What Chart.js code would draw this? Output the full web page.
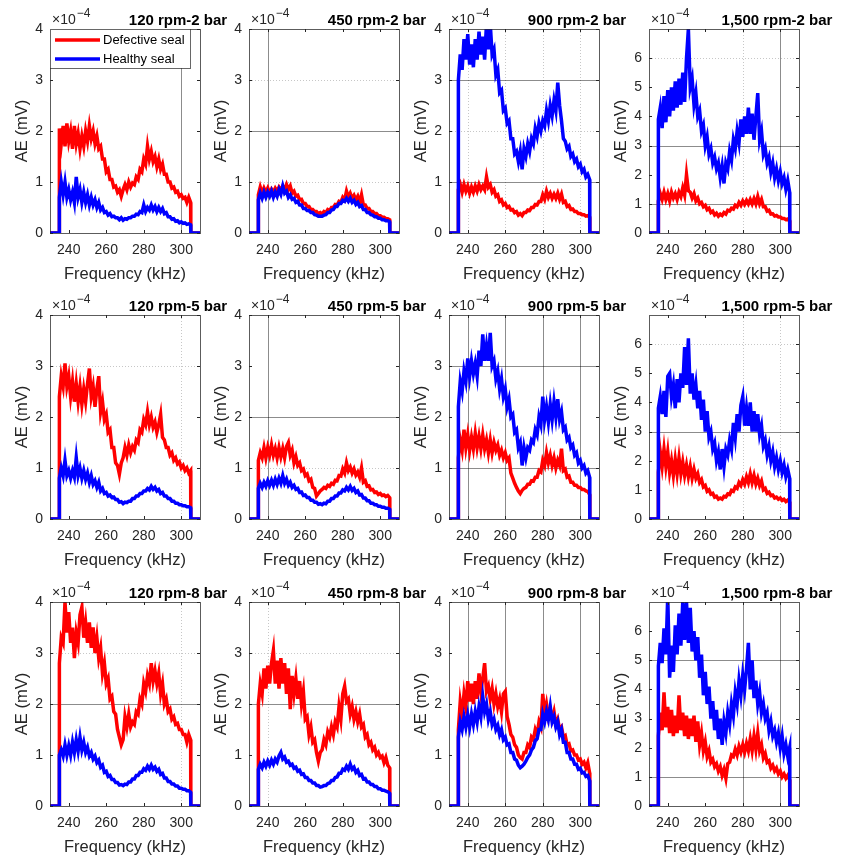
<!DOCTYPE html>
<html>
<head>
<meta charset="utf-8">
<script src="https://cdn.jsdelivr.net/npm/chart.js@4.4.1/dist/chart.umd.min.js"></script>
<style>
  html, body { margin: 0; padding: 0; background: #fff; }
  body { position: relative; width: 843px; height: 856px; overflow: hidden; }
  canvas { position: absolute; }
</style>
</head>
<body>
<script>
/* AE spectra, values in units of 1e-4 mV. Signal is zero outside the 235-305 kHz band. */
const freqKHz = [230, 234.9,
  235,236,237,238,239,240,241,242,243,244,
  245,246,247,248,249,250,251,252,253,254,
  255,256,257,258,259,260,261,262,263,264,
  265,266,267,268,269,270,271,272,273,274,
  275,276,277,278,279,280,281,282,283,284,
  285,286,287,288,289,290,291,292,293,294,
  295,296,297,298,299,300,301,302,303,304,
  305, 305.1, 310];

// 2 bar
const def120_2 = [0, 0,
  2.05,1.75,2.10,1.70,2.15,1.80,2.00,1.65,2.10,1.75,
  1.95,1.65,1.90,1.70,2.00,1.80,2.10,1.85,2.00,1.75,
  1.90,1.65,1.70,1.45,1.45,1.20,1.25,1.05,1.05,0.90,
  0.92,0.80,0.85,0.72,0.85,0.95,0.85,1.00,0.90,0.98,
  0.95,1.10,1.05,1.25,1.20,1.45,1.35,1.70,1.45,1.60,
  1.40,1.50,1.30,1.45,1.25,1.35,1.15,1.15,1.00,1.00,
  0.88,0.90,0.80,0.82,0.72,0.75,0.68,0.70,0.60,0.70,
  0.60, 0, 0];
const hea120_2 = [0, 0,
  0.70,1.00,0.75,1.00,0.70,0.85,0.65,0.80,0.60,1.10,
  0.70,0.85,0.60,0.80,0.60,0.75,0.55,0.70,0.55,0.65,
  0.50,0.60,0.45,0.50,0.40,0.42,0.35,0.38,0.32,0.33,
  0.30,0.30,0.26,0.30,0.25,0.28,0.27,0.30,0.30,0.33,
  0.33,0.37,0.36,0.42,0.40,0.55,0.42,0.50,0.45,0.55,
  0.45,0.52,0.42,0.50,0.42,0.48,0.38,0.40,0.32,0.32,
  0.27,0.28,0.23,0.24,0.20,0.22,0.19,0.20,0.17,0.18,
  0.16, 0, 0];
const def450_2 = [0, 0,
  0.75,0.90,0.78,0.88,0.80,0.88,0.78,0.86,0.80,0.88,
  0.82,0.90,0.84,0.92,0.85,0.95,0.85,0.92,0.78,0.82,
  0.72,0.74,0.65,0.66,0.58,0.58,0.52,0.52,0.46,0.46,
  0.42,0.42,0.38,0.40,0.37,0.42,0.40,0.46,0.44,0.50,
  0.50,0.56,0.55,0.62,0.60,0.70,0.65,0.82,0.70,0.78,
  0.68,0.74,0.65,0.72,0.60,0.75,0.55,0.55,0.48,0.48,
  0.42,0.42,0.38,0.38,0.34,0.34,0.31,0.31,0.28,0.28,
  0.26, 0, 0];
const hea450_2 = [0, 0,
  0.65,0.78,0.68,0.80,0.70,0.80,0.72,0.82,0.70,0.80,
  0.72,0.85,0.76,0.92,0.78,0.82,0.70,0.75,0.66,0.68,
  0.60,0.62,0.55,0.55,0.48,0.48,0.44,0.44,0.40,0.40,
  0.36,0.35,0.33,0.33,0.33,0.35,0.36,0.40,0.40,0.45,
  0.46,0.52,0.52,0.58,0.58,0.64,0.62,0.68,0.62,0.68,
  0.60,0.64,0.56,0.60,0.52,0.54,0.46,0.46,0.40,0.40,
  0.36,0.35,0.32,0.32,0.29,0.29,0.26,0.26,0.24,0.24,
  0.22, 0, 0];
const def900_2 = [0, 0,
  0.85,0.95,0.80,0.95,0.82,0.92,0.78,0.90,0.80,0.92,
  0.82,0.95,0.85,0.92,0.85,1.10,0.90,0.95,0.80,0.85,
  0.72,0.75,0.62,0.65,0.55,0.58,0.50,0.52,0.45,0.46,
  0.40,0.42,0.35,0.38,0.34,0.40,0.40,0.45,0.44,0.50,
  0.50,0.56,0.55,0.62,0.62,0.75,0.66,0.82,0.70,0.78,
  0.68,0.76,0.68,0.78,0.66,0.76,0.60,0.62,0.52,0.54,
  0.46,0.47,0.42,0.42,0.38,0.38,0.36,0.36,0.33,0.34,
  0.31, 0, 0];
const hea900_2 = [0, 0,
  3.00,3.50,3.20,3.80,3.40,3.90,3.30,3.70,3.25,3.80,
  3.40,3.95,3.50,3.85,3.40,4.10,3.60,4.10,3.50,3.60,
  3.10,3.20,2.75,2.80,2.40,2.45,2.15,2.20,1.85,1.85,
  1.55,1.60,1.40,1.60,1.25,1.65,1.50,1.75,1.60,1.85,
  1.75,2.05,1.90,2.15,2.00,2.20,2.10,2.40,2.20,2.50,
  2.30,2.60,2.40,2.95,2.50,2.20,1.85,1.80,1.65,1.70,
  1.50,1.55,1.40,1.45,1.30,1.35,1.20,1.25,1.10,1.15,
  1.05, 0, 0];
const def1500_2 = [0, 0,
  1.10,1.35,1.15,1.40,1.15,1.35,1.10,1.40,1.20,1.35,
  1.15,1.40,1.25,1.55,1.30,2.00,1.45,1.40,1.20,1.35,
  1.10,1.20,1.00,1.05,0.90,0.95,0.80,0.85,0.70,0.75,
  0.62,0.68,0.58,0.65,0.60,0.70,0.65,0.78,0.75,0.85,
  0.82,0.95,0.90,1.05,0.95,1.10,0.98,1.12,1.00,1.15,
  1.00,1.18,1.00,1.25,1.00,1.15,0.90,0.90,0.75,0.78,
  0.65,0.66,0.58,0.60,0.55,0.55,0.50,0.50,0.46,0.48,
  0.42, 0, 0];
const hea1500_2 = [0, 0,
  3.90,4.30,3.60,4.70,3.80,4.90,4.00,5.00,4.20,5.20,
  4.30,5.30,4.40,5.50,4.50,6.00,7.00,5.00,5.30,4.40,
  4.80,4.00,4.20,3.50,3.70,3.00,3.30,2.70,2.90,2.40,
  2.60,2.20,2.40,1.90,2.30,1.70,2.40,2.20,2.80,2.50,
  3.20,2.90,3.50,3.10,3.90,3.30,4.00,3.40,4.30,3.40,
  4.10,3.20,4.00,4.80,3.20,3.50,2.70,2.90,2.40,2.60,
  2.10,2.40,1.90,2.20,1.80,2.10,1.70,1.90,1.50,1.80,
  1.40, 0, 0];

// 5 bar
const def120_5 = [0, 0,
  2.40,2.80,2.60,3.05,2.60,2.80,2.40,2.70,2.30,2.65,
  2.30,2.60,2.25,2.55,2.30,2.65,2.95,2.40,2.60,2.20,
  2.55,2.80,2.10,2.30,1.95,2.05,1.70,1.75,1.40,1.40,
  1.10,1.05,0.88,1.10,1.20,1.40,1.25,1.45,1.30,1.42,
  1.35,1.55,1.50,1.75,1.70,1.95,1.85,2.10,1.85,2.00,
  1.80,1.90,1.70,1.85,2.05,1.60,1.55,1.40,1.40,1.25,
  1.30,1.15,1.20,1.08,1.12,1.00,1.05,0.95,1.00,0.90,
  0.95, 0, 0];
const hea120_5 = [0, 0,
  0.80,1.00,0.85,1.15,0.85,0.95,0.80,0.95,0.82,1.20,
  0.85,1.00,0.80,0.95,0.78,0.90,0.72,0.85,0.68,0.75,
  0.62,0.72,0.55,0.60,0.50,0.52,0.45,0.47,0.42,0.43,
  0.38,0.38,0.33,0.34,0.30,0.33,0.32,0.35,0.35,0.40,
  0.40,0.45,0.45,0.50,0.50,0.55,0.55,0.60,0.57,0.64,
  0.58,0.62,0.55,0.58,0.50,0.52,0.45,0.45,0.40,0.40,
  0.35,0.35,0.31,0.31,0.28,0.28,0.26,0.26,0.24,0.24,
  0.22, 0, 0];
const def450_5 = [0, 0,
  1.15,1.30,1.20,1.40,1.20,1.40,1.25,1.45,1.25,1.38,
  1.20,1.40,1.22,1.38,1.20,1.42,1.50,1.25,1.35,1.10,
  1.22,1.05,1.10,0.95,0.98,0.85,0.88,0.75,0.78,0.62,
  0.60,0.45,0.50,0.55,0.58,0.62,0.60,0.66,0.64,0.70,
  0.68,0.76,0.75,0.85,0.84,0.98,0.90,1.10,0.95,1.02,
  0.90,0.98,0.86,0.92,0.82,1.00,0.72,0.75,0.64,0.65,
  0.57,0.58,0.52,0.53,0.48,0.50,0.46,0.47,0.44,0.46,
  0.42, 0, 0];
const hea450_5 = [0, 0,
  0.60,0.70,0.62,0.72,0.64,0.75,0.66,0.76,0.66,0.78,
  0.68,0.80,0.70,0.85,0.70,0.78,0.66,0.72,0.62,0.66,
  0.58,0.60,0.52,0.53,0.46,0.47,0.42,0.42,0.37,0.37,
  0.33,0.33,0.29,0.30,0.28,0.31,0.30,0.35,0.35,0.40,
  0.40,0.45,0.45,0.51,0.51,0.57,0.55,0.62,0.57,0.64,
  0.56,0.60,0.52,0.55,0.47,0.48,0.41,0.41,0.36,0.36,
  0.31,0.31,0.28,0.28,0.25,0.25,0.23,0.23,0.21,0.21,
  0.19, 0, 0];
const def900_5 = [0, 0,
  1.20,1.55,1.35,1.75,1.40,1.65,1.35,1.60,1.38,1.68,
  1.40,1.62,1.38,1.65,1.38,1.55,1.30,1.55,1.30,1.50,
  1.35,1.45,1.25,1.35,1.20,1.30,1.15,1.20,0.90,0.80,
  0.70,0.62,0.55,0.50,0.56,0.60,0.62,0.68,0.68,0.75,
  0.74,0.82,0.82,0.95,0.92,1.15,1.05,1.30,1.10,1.25,
  1.05,1.20,1.00,1.15,1.05,1.38,0.95,0.98,0.82,0.84,
  0.72,0.72,0.66,0.66,0.62,0.62,0.58,0.58,0.55,0.54,
  0.48, 0, 0];
const hea900_5 = [0, 0,
  2.20,2.70,2.50,2.90,2.70,3.15,2.80,3.10,2.85,3.05,
  2.80,3.30,3.00,3.62,3.10,3.40,3.10,3.65,3.00,3.10,
  2.75,2.90,2.55,2.75,2.40,2.55,2.20,2.35,2.00,2.05,
  1.70,1.75,1.40,1.50,1.05,1.40,1.20,1.40,1.35,1.55,
  1.50,1.75,1.65,2.00,1.85,2.40,1.95,2.20,1.90,2.25,
  1.95,2.30,2.00,2.35,1.95,2.10,1.75,1.80,1.55,1.60,
  1.40,1.45,1.25,1.30,1.10,1.15,1.00,1.05,0.90,0.95,
  0.82, 0, 0];
const def1500_5 = [0, 0,
  1.60,2.30,1.80,2.40,1.80,2.30,1.60,2.00,1.50,2.05,
  1.55,2.10,1.55,1.95,1.50,1.85,1.45,1.80,1.40,1.70,
  1.40,1.55,1.25,1.35,1.10,1.15,0.95,1.00,0.85,0.88,
  0.75,0.78,0.68,0.72,0.68,0.78,0.76,0.86,0.84,0.98,
  0.95,1.10,1.05,1.25,1.15,1.35,1.20,1.45,1.25,1.55,
  1.25,1.50,1.20,1.40,1.15,1.30,1.00,1.05,0.88,0.92,
  0.80,0.82,0.72,0.75,0.68,0.72,0.64,0.68,0.60,0.65,
  0.58, 0, 0];
const hea1500_5 = [0, 0,
  3.80,4.20,3.60,4.40,3.50,4.90,5.00,4.20,4.60,3.80,
  4.80,4.00,5.00,4.50,5.90,4.60,6.20,4.30,5.00,4.10,
  4.60,3.80,4.40,3.40,4.10,3.00,3.70,2.80,3.00,2.40,
  2.60,2.00,2.30,1.70,2.40,1.80,2.40,2.20,2.70,2.40,
  3.30,2.80,3.60,3.00,3.90,4.20,3.20,3.80,3.20,4.00,
  3.00,3.70,3.00,3.60,2.90,3.20,2.50,2.70,2.20,2.50,
  2.00,2.30,1.80,2.10,1.70,2.00,1.60,1.85,1.45,1.70,
  1.40, 0, 0];

// 8 bar
const def120_8 = [0, 0,
  2.80,3.30,3.20,4.00,3.40,3.80,3.20,3.50,2.90,3.40,
  3.20,3.75,3.90,3.30,3.60,3.20,3.60,3.10,3.50,3.00,
  3.30,2.90,3.10,2.60,2.80,2.40,2.50,2.10,2.15,1.85,
  1.80,1.50,1.35,1.20,1.30,1.75,1.55,1.80,1.55,1.65,
  1.60,1.85,1.80,2.10,2.00,2.40,2.25,2.55,2.40,2.80,
  2.45,2.65,2.40,2.60,2.20,2.40,2.00,2.10,1.85,1.90,
  1.70,1.75,1.60,1.62,1.50,1.50,1.40,1.40,1.25,1.40,
  1.30, 0, 0];
const hea120_8 = [0, 0,
  1.00,1.10,0.98,1.20,1.00,1.18,1.00,1.25,1.05,1.30,
  1.08,1.35,1.10,1.25,1.05,1.15,0.98,1.05,0.92,0.98,
  0.85,0.90,0.76,0.80,0.66,0.68,0.58,0.60,0.52,0.52,
  0.46,0.46,0.41,0.42,0.40,0.43,0.42,0.47,0.47,0.53,
  0.53,0.60,0.60,0.66,0.66,0.73,0.70,0.78,0.72,0.80,
  0.72,0.76,0.68,0.72,0.62,0.64,0.55,0.55,0.48,0.48,
  0.43,0.43,0.39,0.39,0.35,0.35,0.33,0.33,0.30,0.30,
  0.27, 0, 0];
const def450_8 = [0, 0,
  2.00,2.40,2.20,2.70,2.30,2.75,2.40,2.80,3.05,2.40,
  2.85,2.30,2.90,2.40,2.80,2.20,2.70,1.90,2.55,2.20,
  2.50,2.10,2.45,2.00,2.25,1.70,1.75,1.40,1.55,1.25,
  1.30,1.05,0.88,1.05,1.10,1.30,1.20,1.45,1.35,1.55,
  1.40,1.65,1.55,1.95,1.70,2.20,2.35,2.05,2.10,1.80,
  1.95,1.70,1.85,1.65,1.80,1.55,1.60,1.35,1.40,1.20,
  1.25,1.10,1.15,1.00,1.05,0.95,0.98,0.85,0.95,0.80,
  0.75, 0, 0];
const hea450_8 = [0, 0,
  0.72,0.82,0.75,0.86,0.78,0.88,0.80,0.90,0.82,0.92,
  0.86,0.98,1.05,0.92,0.96,0.86,0.88,0.80,0.82,0.74,
  0.76,0.68,0.70,0.62,0.63,0.56,0.56,0.50,0.50,0.45,
  0.45,0.40,0.40,0.37,0.38,0.40,0.40,0.44,0.45,0.50,
  0.50,0.56,0.57,0.64,0.64,0.72,0.70,0.78,0.72,0.82,
  0.72,0.76,0.66,0.70,0.60,0.62,0.53,0.54,0.47,0.47,
  0.42,0.42,0.38,0.38,0.34,0.34,0.31,0.31,0.29,0.28,
  0.25, 0, 0];
const def900_8 = [0, 0,
  1.50,2.05,1.80,2.20,1.95,2.45,2.05,2.40,2.00,2.45,
  2.10,2.60,2.25,2.50,2.80,2.25,2.35,2.10,2.30,2.00,
  2.20,1.95,2.10,1.85,2.20,2.25,1.75,1.60,1.40,1.35,
  1.20,1.15,1.00,0.95,0.92,1.05,1.05,1.20,1.15,1.35,
  1.30,1.50,1.40,1.65,1.55,2.20,1.80,2.00,1.75,1.90,
  1.70,1.85,1.60,1.70,1.50,1.55,1.35,1.38,1.20,1.22,
  1.08,1.10,1.00,1.00,0.90,0.92,0.82,0.86,0.75,0.85,
  0.65, 0, 0];
const hea900_8 = [0, 0,
  1.35,1.65,1.50,1.75,1.55,1.78,1.55,1.80,1.60,1.85,
  1.65,1.95,1.75,2.15,1.85,2.00,1.70,1.85,1.60,1.70,
  1.50,1.58,1.40,1.50,1.30,1.35,1.20,1.22,1.05,1.05,
  0.92,0.90,0.80,0.75,0.78,0.82,0.88,0.95,1.00,1.10,
  1.15,1.28,1.32,1.50,1.50,1.80,1.65,1.85,1.70,1.95,
  1.65,1.75,1.55,1.65,1.40,1.50,1.25,1.25,1.05,1.05,
  0.92,0.92,0.82,0.82,0.72,0.74,0.65,0.66,0.58,0.60,
  0.50, 0, 0];
const def1500_8 = [0, 0,
  2.40,3.20,2.60,3.90,2.70,3.40,2.50,3.30,2.40,3.10,
  2.50,3.80,2.60,3.20,2.40,3.10,2.30,3.00,2.40,3.10,
  2.20,2.90,2.10,2.50,1.90,2.20,1.70,1.90,1.50,1.60,
  1.35,1.45,1.20,1.35,1.05,1.25,0.95,1.45,1.50,1.75,
  1.70,1.95,1.75,2.05,1.85,2.10,1.85,2.15,1.90,2.30,
  1.90,2.40,1.95,2.50,1.90,2.10,1.65,1.80,1.50,1.55,
  1.30,1.40,1.20,1.30,1.10,1.20,1.00,1.10,0.95,1.05,
  0.90, 0, 0];
const hea1500_8 = [0, 0,
  4.80,5.60,4.90,6.10,5.20,7.20,4.40,5.50,4.60,6.20,
  5.20,6.60,5.50,7.00,5.70,7.00,5.60,6.80,5.30,6.00,
  5.00,5.80,4.40,5.20,3.80,4.60,3.50,4.10,3.00,3.60,
  2.60,3.30,2.30,3.00,2.10,2.90,2.50,3.20,2.80,3.50,
  3.10,3.90,3.50,4.30,3.80,4.50,4.00,4.70,5.60,4.00,
  5.00,3.70,4.30,3.50,3.90,3.20,3.50,3.00,3.20,2.60,
  2.90,2.40,2.60,2.20,2.50,2.00,2.40,1.80,2.10,1.70,
  2.00, 0, 0];

const xTicks = [240, 260, 280, 300];
const yTicksLow = [0, 1, 2, 3, 4];
const yTicksHigh = [0, 1, 2, 3, 4, 5, 6];

/* Panel layout: 4 columns (speed) x 3 rows (pressure).
   vs/hs = solid reference lines, vd/hd = dotted ones. */
const panels = [
  { title: '120 rpm-2 bar',   def: def120_2,  hea: hea120_2,  yMax: 4, legend: true, vs: [300], hs: [], vd: [], hd: [] },
  { title: '450 rpm-2 bar',   def: def450_2,  hea: hea450_2,  yMax: 4, vs: [240], hs: [2], vd: [], hd: [1, 3] },
  { title: '900 rpm-2 bar',   def: def900_2,  hea: hea900_2,  yMax: 4, vs: [], hs: [1, 3], vd: [240, 260, 280, 300], hd: [2] },
  { title: '1,500 rpm-2 bar', def: def1500_2, hea: hea1500_2, yMax: 7, vs: [300], hs: [1, 3], vd: [280], hd: [6] },
  { title: '120 rpm-5 bar',   def: def120_5,  hea: hea120_5,  yMax: 4, vs: [], hs: [], vd: [300], hd: [3] },
  { title: '450 rpm-5 bar',   def: def450_5,  hea: hea450_5,  yMax: 4, vs: [240], hs: [2], vd: [], hd: [1] },
  { title: '900 rpm-5 bar',   def: def900_5,  hea: hea900_5,  yMax: 4, vs: [240, 260, 280, 300], hs: [1, 3], vd: [], hd: [] },
  { title: '1,500 rpm-5 bar', def: def1500_5, hea: hea1500_5, yMax: 7, vs: [], hs: [3], vd: [280, 300], hd: [6] },
  { title: '120 rpm-8 bar',   def: def120_8,  hea: hea120_8,  yMax: 4, vs: [], hs: [2], vd: [300], hd: [3] },
  { title: '450 rpm-8 bar',   def: def450_8,  hea: hea450_8,  yMax: 4, vs: [], hs: [2], vd: [240], hd: [3] },
  { title: '900 rpm-8 bar',   def: def900_8,  hea: hea900_8,  yMax: 4, vs: [240, 260, 280, 300], hs: [], vd: [], hd: [] },
  { title: '1,500 rpm-8 bar', def: def1500_8, hea: hea1500_8, yMax: 7, vs: [280, 300], hs: [1, 5], vd: [], hd: [] },
];

const COL_LEFT = [0, 199, 399, 599];
const ROW_TOP = [0, 286, 573];
const FONT = "'Liberation Sans', Arial, Helvetica, sans-serif";
const INK = '#262626';
const RED = '#ff0000';
const BLUE = '#0000ff';

function series(values) {
  return freqKHz.map((f, i) => ({ x: f, y: values[i] }));
}

function crisp(v) { return Math.round(v) + 0.5; }

/* MATLAB-style axes: box, inward ticks, labels, title, exponent, legend */
function matlabAxes(p) {
  return {
    id: 'matlabAxes',
    beforeDatasetsDraw(chart) {
      const { ctx, chartArea: a, scales: { x, y } } = chart;
      ctx.save();
      ctx.lineWidth = 1;
      ctx.strokeStyle = 'rgba(0,0,0,0.22)';
      ctx.setLineDash([1, 2]);
      p.vd.forEach(v => { const px = crisp(x.getPixelForValue(v)); ctx.beginPath(); ctx.moveTo(px, a.top); ctx.lineTo(px, a.bottom); ctx.stroke(); });
      p.hd.forEach(v => { const py = crisp(y.getPixelForValue(v)); ctx.beginPath(); ctx.moveTo(a.left, py); ctx.lineTo(a.right, py); ctx.stroke(); });
      ctx.setLineDash([]);
      ctx.strokeStyle = 'rgba(0,0,0,0.45)';
      p.vs.forEach(v => { const px = crisp(x.getPixelForValue(v)); ctx.beginPath(); ctx.moveTo(px, a.top); ctx.lineTo(px, a.bottom); ctx.stroke(); });
      p.hs.forEach(v => { const py = crisp(y.getPixelForValue(v)); ctx.beginPath(); ctx.moveTo(a.left, py); ctx.lineTo(a.right, py); ctx.stroke(); });
      ctx.restore();
    },
    afterDatasetsDraw(chart) {
      const { ctx, chartArea: a, scales: { x, y } } = chart;
      const yTicks = p.yMax > 4 ? yTicksHigh : yTicksLow;
      ctx.save();

      // box
      ctx.strokeStyle = 'rgba(38,38,38,0.75)';
      ctx.lineWidth = 1;
      ctx.strokeRect(crisp(a.left), crisp(a.top), Math.round(a.right - a.left), Math.round(a.bottom - a.top));

      // inward ticks on all four sides
      ctx.strokeStyle = INK;
      ctx.beginPath();
      xTicks.forEach(v => {
        const px = crisp(x.getPixelForValue(v));
        ctx.moveTo(px, a.bottom); ctx.lineTo(px, a.bottom - 3);
        ctx.moveTo(px, a.top); ctx.lineTo(px, a.top + 3);
      });
      yTicks.forEach(v => {
        const py = crisp(y.getPixelForValue(v));
        ctx.moveTo(a.left, py); ctx.lineTo(a.left + 3, py);
        ctx.moveTo(a.right, py); ctx.lineTo(a.right - 3, py);
      });
      ctx.stroke();

      // tick labels
      ctx.fillStyle = INK;
      ctx.font = '14px ' + FONT;
      ctx.textAlign = 'center';
      ctx.textBaseline = 'middle';
      xTicks.forEach(v => ctx.fillText(String(v), x.getPixelForValue(v), a.bottom + 17));
      ctx.textAlign = 'right';
      yTicks.forEach(v => ctx.fillText(String(v), a.left - 7, y.getPixelForValue(v)));

      // axis titles
      ctx.font = '16.5px ' + FONT;
      ctx.textAlign = 'center';
      ctx.fillText('Frequency (kHz)', (a.left + a.right) / 2, a.bottom + 41);
      ctx.save();
      ctx.translate(a.left - 28, (a.top + a.bottom) / 2);
      ctx.rotate(-Math.PI / 2);
      ctx.fillText('AE (mV)', 0, 0);
      ctx.restore();

      // exponent label
      ctx.textAlign = 'left';
      ctx.textBaseline = 'alphabetic';
      ctx.font = '14px ' + FONT;
      ctx.fillText('\u00d710', a.left + 2, a.top - 5);
      const w = ctx.measureText('\u00d710').width;
      ctx.font = '12px ' + FONT;
      ctx.fillText('\u22124', a.left + 3 + w, a.top - 12);

      // title
      ctx.fillStyle = '#000';
      ctx.font = 'bold 15px ' + FONT;
      ctx.textAlign = 'center';
      ctx.fillText(p.title, a.left + 128, a.top - 4);

      if (p.legend) {
        const lx = a.left, ly = a.top, lw = 140, lh = 39;
        ctx.fillStyle = '#fff';
        ctx.fillRect(lx, ly, lw, lh);
        ctx.strokeStyle = 'rgba(38,38,38,0.7)';
        ctx.strokeRect(crisp(lx), crisp(ly), lw, lh);
        ctx.lineWidth = 3.5;
        [[RED, 'Defective seal', 11], [BLUE, 'Healthy seal', 30]].forEach(([c, label, dy]) => {
          ctx.strokeStyle = c;
          ctx.beginPath();
          ctx.moveTo(lx + 5, ly + dy); ctx.lineTo(lx + 50, ly + dy);
          ctx.stroke();
          ctx.fillStyle = '#000';
          ctx.font = '13px ' + FONT;
          ctx.textAlign = 'left';
          ctx.textBaseline = 'middle';
          ctx.fillText(label, lx + 53, ly + dy);
        });
      }
      ctx.restore();
    }
  };
}

panels.forEach((p, i) => {
  const col = i % 4, row = Math.floor(i / 4);
  const cv = document.createElement('canvas');
  cv.width = 250;
  cv.height = 286;
  cv.style.left = COL_LEFT[col] + 'px';
  cv.style.top = ROW_TOP[row] + 'px';
  document.body.appendChild(cv);

  new Chart(cv, {
    type: 'line',
    data: {
      datasets: [
        { label: 'Healthy seal',   data: series(p.hea), borderColor: BLUE, borderWidth: 3.5, pointRadius: 0, tension: 0 },
        { label: 'Defective seal', data: series(p.def), borderColor: RED,  borderWidth: 3.5, pointRadius: 0, tension: 0 },
      ]
    },
    options: {
      responsive: false,
      animation: false,
      devicePixelRatio: 1,
      layout: { padding: { left: 50, right: 50, top: 29, bottom: 53 } },
      scales: {
        x: { type: 'linear', min: 230, max: 310, display: false },
        y: { type: 'linear', min: 0, max: p.yMax, display: false },
      },
      plugins: { legend: { display: false }, tooltip: { enabled: false } }
    },
    plugins: [matlabAxes(p)]
  });
});
</script>
</body>
</html>
